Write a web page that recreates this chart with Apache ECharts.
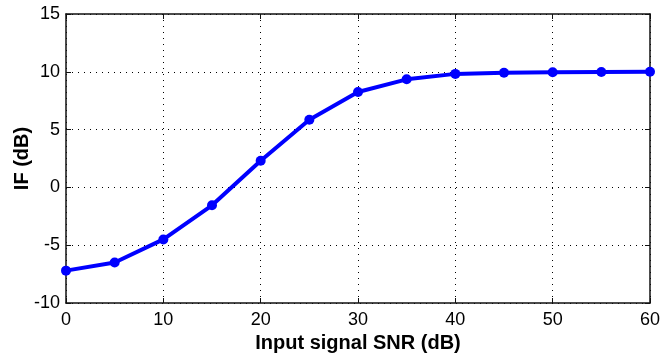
<!DOCTYPE html>
<html><head><meta charset="utf-8">
<script src="https://cdn.jsdelivr.net/npm/echarts@6/dist/echarts.min.js"></script>
<style>html,body{margin:0;padding:0;background:#fff}#c{width:662px;height:362px}</style>
</head><body><div id="c"></div>
<script>
const snr = [0, 5, 10, 15, 20, 25, 30, 35, 40, 45, 50, 55, 60];
const ifDb = [-7.2, -6.5, -4.5, -1.55, 2.3, 5.85, 8.25, 9.35, 9.82, 9.92, 9.96, 9.98, 10.0];
const xTitle = 'Input signal SNR (dB)';
const yTitle = 'IF (dB)';

const font = 'Liberation Sans, Arial, sans-serif';
const gridDots = {show: true, lineStyle: {color: '#000', width: 1, type: [1, 5]}};
const axisLine = {show: true, onZero: false, lineStyle: {color: '#111', width: 1.5}};
const tick = {show: true, inside: true, length: 5, lineStyle: {color: '#111'}};
const chart = echarts.init(document.getElementById('c'));
chart.setOption({
  animation: false,
  grid: {left: 66, right: 12, top: 14, bottom: 59, containLabel: false, outerBoundsMode: 'none'},
  xAxis: [{
    type: 'value', min: 0, max: 60, interval: 10,
    name: xTitle, nameLocation: 'middle', nameGap: 30, nameMoveOverlap: false,
    nameTextStyle: {fontFamily: font, fontSize: 20, fontWeight: 'bold', color: '#000'},
    axisLine: axisLine, axisTick: tick,
    axisLabel: {fontFamily: font, fontSize: 18, color: '#000', margin: 8},
    splitLine: gridDots
  }, {
    type: 'value', min: 0, max: 60, interval: 10, position: 'top',
    axisLine: axisLine, axisTick: tick,
    axisLabel: {show: false}, splitLine: {show: false}
  }],
  yAxis: [{
    type: 'value', min: -10, max: 15, interval: 5,
    name: yTitle, nameLocation: 'middle', nameGap: 34, nameMoveOverlap: false,
    nameTextStyle: {fontFamily: font, fontSize: 20, fontWeight: 'bold', color: '#000'},
    axisLine: axisLine, axisTick: tick,
    axisLabel: {fontFamily: font, fontSize: 18, color: '#000', margin: 6},
    splitLine: gridDots
  }, {
    type: 'value', min: -10, max: 15, interval: 5, position: 'right',
    axisLine: axisLine, axisTick: tick,
    axisLabel: {show: false}, splitLine: {show: false}
  }],
  series: [{
    type: 'line',
    data: snr.map((x, i) => [x, ifDb[i]]),
    symbol: 'circle', symbolSize: 10,
    lineStyle: {color: '#0000ff', width: 4},
    itemStyle: {color: '#0000ff'},
    clip: false
  }]
});
</script></body></html>
